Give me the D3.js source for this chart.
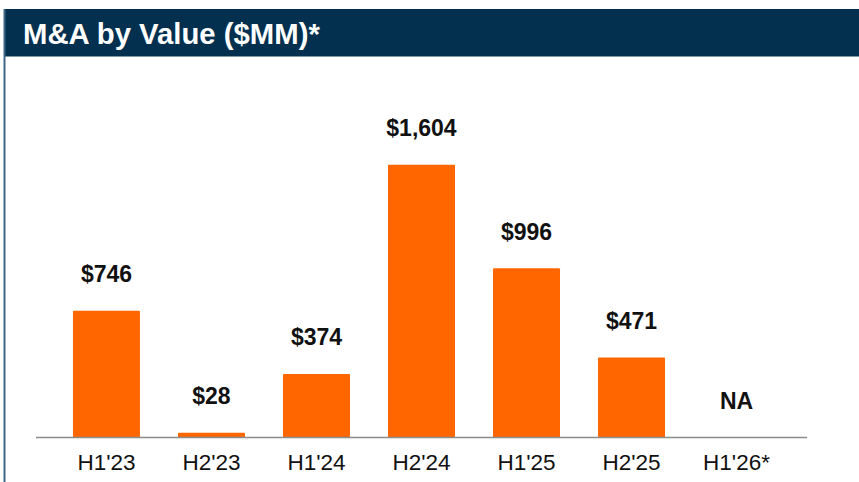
<!DOCTYPE html>
<html>
<head>
<meta charset="utf-8">
<script src="https://cdn.jsdelivr.net/npm/d3@7"></script>
<style>
  body { margin: 0; background: #fff; }
  svg { display: block; font-family: "Liberation Sans", Arial, sans-serif; }
</style>
</head>
<body>
<div id="chart"></div>
<script>
// data
const categories = ["H1'23", "H2'23", "H1'24", "H2'24", "H1'25", "H2'25", "H1'26*"];
const values = [746, 28, 374, 1604, 996, 471, null];
const valueLabels = ["$746", "$28", "$374", "$1,604", "$996", "$471", "NA"];
const title = "M&A by Value ($MM)*";

const width = 859, height = 482;
const baseY = 437.5;

const svg = d3.select("#chart").append("svg")
  .attr("width", width)
  .attr("height", height);

// header bar + left frame line
svg.append("rect")
  .attr("x", 4).attr("y", 9)
  .attr("width", width - 4).attr("height", 47.5)
  .attr("fill", "#03304f");

svg.append("line")
  .attr("x1", 4.5).attr("x2", 4.5)
  .attr("y1", 9).attr("y2", height)
  .attr("stroke", "#3d6688")
  .attr("stroke-width", 2);

svg.append("text")
  .attr("x", 23).attr("y", 44)
  .attr("fill", "#fff")
  .attr("font-size", 29.3)
  .attr("font-weight", "bold")
  .text(title);

// scales
let x = d3.scaleBand()
  .domain(categories)
  .range([36, 807])
  .paddingInner(0.362)
  .paddingOuter(0.352);

let y = d3.scaleLinear()
  .domain([0, 2000])
  .range([baseY, 97.5]);

const data = categories.map((c, i) => ({cat: c, val: values[i], label: valueLabels[i]}));

// bars
svg.selectAll("rect.bar")
  .data(data.filter(d => d.val != null))
  .enter()
  .append("rect")
  .attr("class", "bar")
  .attr("x", d => x(d.cat))
  .attr("y", d => y(d.val))
  .attr("width", x.bandwidth())
  .attr("height", d => baseY - y(d.val))
  .attr("rx", 1)
  .attr("fill", "#ff6600");

// baseline
svg.append("line")
  .attr("x1", 36).attr("x2", 807)
  .attr("y1", baseY).attr("y2", baseY)
  .attr("stroke", "#8c8c8c")
  .attr("stroke-width", 1.3);

// value labels
svg.selectAll("text.val")
  .data(data)
  .enter()
  .append("text")
  .attr("class", "val")
  .attr("x", d => x(d.cat) + x.bandwidth() / 2)
  .attr("y", d => y(d.val || 0) - 28.5)
  .attr("text-anchor", "middle")
  .attr("font-size", 23)
  .attr("font-weight", "bold")
  .attr("fill", "#111")
  .text(d => d.label);

// category axis labels
svg.selectAll("text.cat")
  .data(categories)
  .enter()
  .append("text")
  .attr("class", "cat")
  .attr("x", d => x(d) + x.bandwidth() / 2)
  .attr("y", 470)
  .attr("text-anchor", "middle")
  .attr("font-size", 22.5)
  .attr("fill", "#111")
  .text(d => d);
</script>
</body>
</html>
